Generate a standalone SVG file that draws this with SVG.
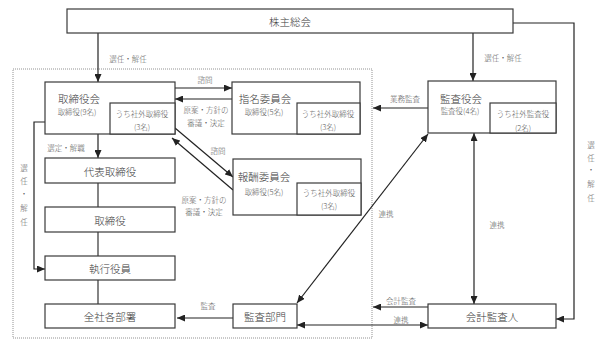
<svg xmlns="http://www.w3.org/2000/svg" width="605" height="345" viewBox="0 0 605 345">
<defs>
<marker id="ah" viewBox="0 0 8 7" refX="8" refY="3.5" markerWidth="8" markerHeight="7" markerUnits="userSpaceOnUse" orient="auto-start-reverse">
<path d="M0,0 L8,3.5 L0,7 z" fill="#222"/>
</marker>
<style>
text{font-family:"Noto Sans CJK JP","Noto Sans",sans-serif;text-anchor:middle;dominant-baseline:central;font-weight:300}
.box{fill:#fff;stroke:#3a3a3a;stroke-width:1.2}
.big{font-size:10.5px;fill:#3a3a3a}
.sm{font-size:7.5px;fill:#5a5a5a}
.ln{fill:none;stroke:#333;stroke-width:1.2}
.ar{fill:none;stroke:#222;stroke-width:1.2;marker-end:url(#ah)}
.ar2{fill:none;stroke:#222;stroke-width:1.2;marker-end:url(#ah);marker-start:url(#ah)}
.dot{fill:none;stroke:#777;stroke-width:0.8;stroke-dasharray:1,1}
</style>
</defs>
<rect width="605" height="345" fill="#fff"/>
<rect class="dot" x="13" y="69" width="359" height="269"/>

<g id="connectors">
<line class="ar" x1="98" y1="33" x2="98" y2="82"/>
<line class="ar" x1="473" y1="33" x2="473" y2="81"/>
<polyline class="ar" points="513,23 574,23 574,319 556,319"/>
<line class="ar" x1="175" y1="88" x2="232" y2="88"/>
<line class="ar" x1="232" y1="99" x2="175" y2="99"/>
<line class="ar" x1="175" y1="128" x2="233" y2="177"/>
<line class="ar" x1="233" y1="190" x2="172" y2="138"/>
<line class="ar" x1="98" y1="134" x2="98" y2="158"/>
<line class="ln" x1="98" y1="183" x2="98" y2="207"/>
<line class="ln" x1="98" y1="232" x2="98" y2="256"/>
<line class="ln" x1="98" y1="280" x2="98" y2="304"/>
<polyline class="ar" points="45,122 34,122 34,269 45,269"/>
<line class="ar" x1="428" y1="108" x2="373" y2="108"/>
<line class="ar2" x1="474" y1="133" x2="474" y2="304"/>
<line class="ar2" x1="428" y1="134" x2="297" y2="303"/>
<line class="ar" x1="428" y1="307" x2="373" y2="307"/>
<line class="ar2" x1="297" y1="325" x2="428" y2="325"/>
<line class="ar" x1="233" y1="318" x2="177" y2="318"/>
<text class="sm" x="128" y="58">選任・解任</text>
<text class="sm" x="503" y="57">選任・解任</text>
<text class="sm" x="205" y="79">諮問</text>
<text class="sm" x="206" y="109">原案・方針の</text>
<text class="sm" x="206" y="122">審議・決定</text>
<text class="sm" x="218" y="150">諮問</text>
<text class="sm" x="204" y="199">原案・方針の</text>
<text class="sm" x="204" y="211">審議・決定</text>
<text class="sm" x="66" y="147">選定・解職</text>
<text class="sm" x="24" y="167">選</text>
<text class="sm" x="24" y="180">任</text>
<text class="sm" x="24" y="193">・</text>
<text class="sm" x="24" y="207">解</text>
<text class="sm" x="24" y="221">任</text>
<text class="sm" x="591" y="144">選</text>
<text class="sm" x="591" y="157">任</text>
<text class="sm" x="591" y="169">・</text>
<text class="sm" x="591" y="183">解</text>
<text class="sm" x="591" y="197">任</text>
<text class="sm" x="405" y="98">業務監査</text>
<text class="sm" x="497" y="224">連携</text>
<text class="sm" x="386" y="213">連携</text>
<text class="sm" x="401" y="300">会計監査</text>
<text class="sm" x="401" y="319">連携</text>
<text class="sm" x="208" y="305">監査</text>
</g>

<g id="kabunushi">
<rect class="box" x="67" y="9" width="446" height="24"/>
<text class="big" x="290" y="21">株主総会</text>
</g>
<g id="torishimariyakukai">
<rect class="box" x="45" y="82" width="130" height="52"/>
<rect class="box" x="110" y="103" width="65" height="31"/>
<text class="big" x="79" y="98">取締役会</text>
<text class="sm" x="77" y="111">取締役(9名)</text>
<text class="sm" x="142" y="113">うち社外取締役</text>
<text class="sm" x="142" y="126">(3名)</text>
</g>
<g id="shimei">
<rect class="box" x="232" y="82" width="128" height="52"/>
<rect class="box" x="297" y="103" width="63" height="31"/>
<text class="big" x="265" y="98">指名委員会</text>
<text class="sm" x="264" y="111">取締役(5名)</text>
<text class="sm" x="328" y="113">うち社外取締役</text>
<text class="sm" x="328" y="126">(3名)</text>
</g>
<g id="hoshu">
<rect class="box" x="233" y="159" width="128" height="56"/>
<rect class="box" x="297" y="183" width="64" height="32"/>
<text class="big" x="264" y="176">報酬委員会</text>
<text class="sm" x="264" y="191">取締役(5名)</text>
<text class="sm" x="329" y="192">うち社外取締役</text>
<text class="sm" x="329" y="205">(3名)</text>
</g>
<g id="kansayakukai">
<rect class="box" x="428" y="81" width="128" height="52"/>
<rect class="box" x="490" y="103" width="66" height="30"/>
<text class="big" x="461" y="98">監査役会</text>
<text class="sm" x="460" y="110">監査役(4名)</text>
<text class="sm" x="523" y="113">うち社外監査役</text>
<text class="sm" x="523" y="127">(2名)</text>
</g>
<g id="daihyo">
<rect class="box" x="45" y="158" width="130" height="25"/>
<text class="big" x="110" y="171">代表取締役</text>
</g>
<g id="torishimariyaku">
<rect class="box" x="45" y="207" width="130" height="25"/>
<text class="big" x="110" y="220">取締役</text>
</g>
<g id="shikkoyakuin">
<rect class="box" x="45" y="256" width="130" height="24"/>
<text class="big" x="110" y="268">執行役員</text>
</g>
<g id="zensha">
<rect class="box" x="45" y="304" width="130" height="24"/>
<text class="big" x="110" y="316">全社各部署</text>
</g>
<g id="kansabumon">
<rect class="box" x="233" y="304" width="64" height="24"/>
<text class="big" x="265" y="316">監査部門</text>
</g>
<g id="kaikeikansanin">
<rect class="box" x="428" y="304" width="128" height="24"/>
<text class="big" x="492" y="316">会計監査人</text>
</g>
</svg>
